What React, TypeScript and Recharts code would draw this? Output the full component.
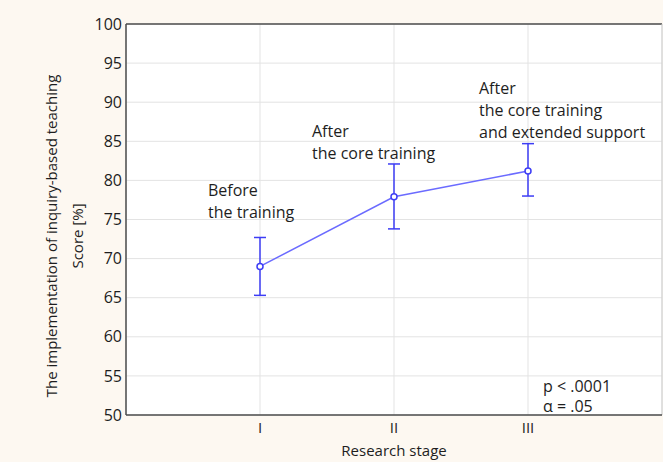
import React from "react";
import {
  LineChart,
  Line,
  XAxis,
  YAxis,
  CartesianGrid,
  ErrorBar,
  ReferenceLine,
} from "recharts";

// research stages and score means with error bar bounds
const stages = ["I", "II", "III"];
const stagePos = [1, 2, 3];
const means = [69.0, 77.9, 81.2];
const upper = [72.7, 82.1, 84.7];
const lower = [65.3, 73.8, 78.0];
const yTicks = [50, 55, 60, 65, 70, 75, 80, 85, 90, 95, 100];

const notes = [
  ["Before", "the training"],
  ["After", "the core training"],
  ["After", "the core training", "and extended support"],
];
const stats = ["p < .0001", "\u03b1 = .05"];

const W = 663;
const H = 462;
const FONT = "'Open Sans', sans-serif";
const AXIS = "#4d4d4d";
const GRID = "#e3e3e3";
const LINE = "#6b6bff";
const BAR = "#3d3df5";
const INK = "#1e1e1e";

const data = stagePos.map((x, i) => ({
  x,
  mean: means[i],
  err: [+(means[i] - lower[i]).toFixed(2), +(upper[i] - means[i]).toFixed(2)],
}));

// annotation anchors (text layout, px)
const noteAnchors = [
  { x: 208, y: 196 },
  { x: 312, y: 137 },
  { x: 479, y: 94 },
];

export default function App() {
  return (
    <div
      style={{
        position: "fixed",
        left: 0,
        top: 0,
        width: W,
        height: H,
        background: "#fdf8f1",
        fontFamily: FONT,
      }}
    >
      <LineChart
        width={W}
        height={H}
        data={data}
        margin={{ top: 24, right: 1, left: 0, bottom: 0 }}
      >
        <CartesianGrid stroke={GRID} fill="#ffffff" strokeWidth={1} />
        <XAxis
          dataKey="x"
          type="number"
          domain={[0, 4]}
          ticks={stagePos}
          tickFormatter={(v: number) => stages[v - 1]}
          height={47}
          stroke={AXIS}
          strokeWidth={1.5}
          tickLine={false}
          tickSize={5}
          tickMargin={2}
          tick={{ fill: INK, fontSize: 15, fontFamily: FONT }}
          label={{
            value: "Research stage",
            position: "insideBottom",
            offset: 6,
            fill: INK,
            fontSize: 15,
            fontFamily: FONT,
          }}
        />
        <YAxis
          domain={[50, 100]}
          ticks={yTicks}
          width={126}
          stroke={AXIS}
          strokeWidth={1.5}
          tickLine={false}
          tickSize={2}
          tickMargin={2}
          interval={0}
          tick={{ fill: INK, fontSize: 16, fontFamily: FONT }}
        />
        <ReferenceLine y={100} stroke={AXIS} strokeWidth={1.5} />
        <ReferenceLine x={4} stroke="#cfcfcf" strokeWidth={1} />
        <Line
          dataKey="mean"
          stroke={LINE}
          strokeWidth={1.5}
          isAnimationActive={false}
          dot={{ r: 3, fill: "#ffffff", stroke: BAR, strokeWidth: 1.5 }}
          activeDot={false}
        >
          <ErrorBar
            dataKey="err"
            direction="y"
            width={6}
            stroke={BAR}
            strokeWidth={1.5}
            isAnimationActive={false}
          />
        </Line>
      </LineChart>

      <svg
        width={W}
        height={H}
        style={{ position: "absolute", left: 0, top: 0, pointerEvents: "none" }}
      >
        <g fontFamily={FONT} fontSize={16} fill={INK}>
          {notes.map((lines, i) =>
            lines.map((t, j) => (
              <text
                key={`${i}-${j}`}
                x={noteAnchors[i].x}
                y={noteAnchors[i].y + j * 22}
              >
                {t}
              </text>
            ))
          )}
          {stats.map((t, j) => (
            <text key={t} x={543} y={392 + j * 20}>
              {t}
            </text>
          ))}
        </g>
        <g fontFamily={FONT} fontSize={15} fill={INK}>
          <text
            transform="translate(57,236) rotate(-90)"
            textAnchor="middle"
          >
            The implementation of inquiry-based teaching
          </text>
          <text
            transform="translate(83,236) rotate(-90)"
            textAnchor="middle"
          >
            Score [%]
          </text>
        </g>
      </svg>
    </div>
  );
}
